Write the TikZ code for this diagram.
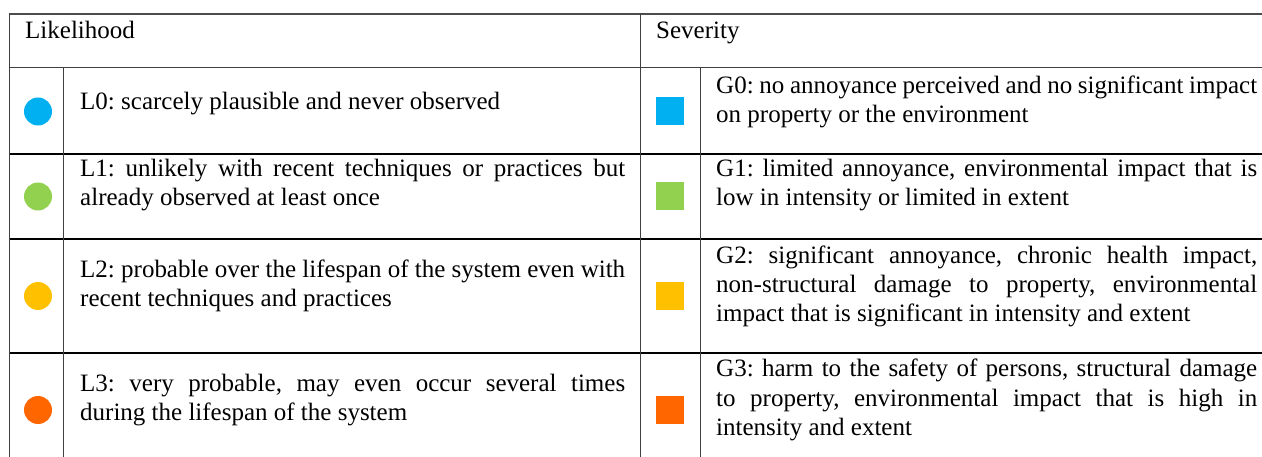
\documentclass[tikz,border=0pt]{standalone}
\usepackage{fontspec}
\setmainfont{Liberation Serif}
\frenchspacing
\definecolor{lcyan}{HTML}{00B0F0}
\definecolor{lgreen}{HTML}{92D050}
\definecolor{lgold}{HTML}{FFC000}
\definecolor{lorange}{HTML}{FF6600}
\newcommand\jline[2]{\hbox to #1{#2}}
\newcommand\pline[1]{\hbox{#1}}
\begin{document}
\begin{tikzpicture}[x=1pt,y=-1pt,
  txt/.style={anchor=base west,inner sep=0pt,font=\fontsize{25}{29.3}\selectfont\frenchspacing},
  dot/.style={circle,minimum size=28pt,inner sep=0pt,fill=#1},
  sq/.style={rectangle,minimum size=28pt,inner sep=0pt,fill=#1},
  thinrule/.style={draw=black!75,line width=1pt},
  rowrule/.style={draw=black,line width=1.6pt},
  toprule/.style={draw=black!70,line width=1.4pt}]
\useasboundingbox (0,0) rectangle (1262,457);
\fill[white] (0,0) rectangle (1262,457);
% rules
\draw[toprule] (9,14) -- (1262,14);
\draw[thinrule] (9,68) -- (1262,68);
\draw[rowrule] (9,154) -- (1262,154);
\draw[rowrule] (9,239) -- (1262,239);
\draw[rowrule] (9,353) -- (1262,353);
\draw[thinrule] (9,14) -- (9,457);
\draw[thinrule] (63,68) -- (63,457);
\draw[thinrule] (640,14) -- (640,457);
\draw[thinrule] (700,68) -- (700,457);
% headers
\node[txt] (hl) at (25,39) {Likelihood};
\node[txt] (hs) at (656,39) {Severity};
% markers
\node[dot=lcyan] (c0) at (38,111.5) {};
\node[dot=lgreen] (c1) at (38,196.5) {};
\node[dot=lgold] (c2) at (38,296) {};
\node[dot=lorange] (c3) at (38,410) {};
\node[sq=lcyan] (s0) at (670,111.5) {};
\node[sq=lgreen] (s1) at (670,196.5) {};
\node[sq=lgold] (s2) at (670,296) {};
\node[sq=lorange] (s3) at (670,410) {};
% likelihood texts
\node[txt] (l0) at (80,109.3) {L0: scarcely plausible and never observed};
\node[txt] (l1) at (80,176.7) {\vtop{\jline{545pt}{L1: unlikely with recent techniques or practices but}\pline{already observed at least once}}};
\node[txt] (l2) at (80,277.5) {\vtop{\jline{545pt}{L2: probable over the lifespan of the system even with}\pline{recent techniques and practices}}};
\node[txt] (l3) at (80,391.3) {\vtop{\jline{545pt}{L3: very probable, may even occur several times}\pline{during the lifespan of the system}}};
% severity texts
\node[txt] (g0) at (716,93.3) {\vtop{\jline{541pt}{G0: no annoyance perceived and no significant impact}\pline{on property or the environment}}};
\node[txt] (g1) at (716,176.7) {\vtop{\jline{541pt}{G1: limited annoyance, environmental impact that is}\pline{low in intensity or limited in extent}}};
\node[txt] (g2) at (716,263.3) {\vtop{\jline{541pt}{G2: significant annoyance, chronic health impact,}\jline{541pt}{non-structural damage to property, environmental}\pline{impact that is significant in intensity and extent}}};
\node[txt] (g3) at (716,376.7) {\vtop{\jline{541pt}{G3: harm to the safety of persons, structural damage}\jline{541pt}{to property, environmental impact that is high in}\pline{intensity and extent}}};
\end{tikzpicture}
\end{document}
